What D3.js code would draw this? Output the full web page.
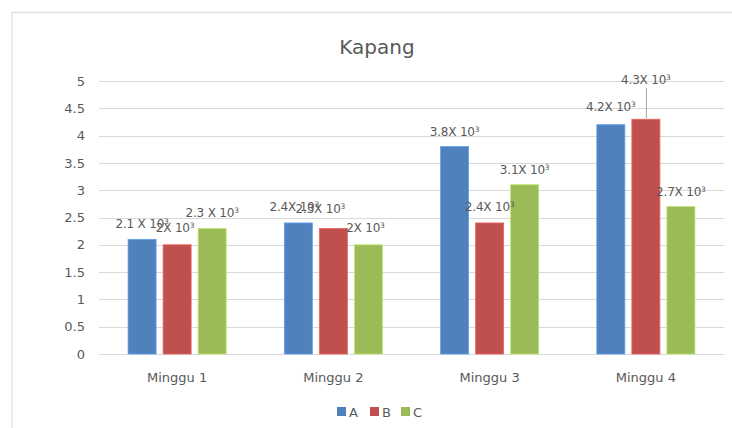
<!DOCTYPE html>
<html>
<head>
<meta charset="utf-8">
<script src="https://cdn.jsdelivr.net/npm/d3@7"></script>
<style>
  html, body { margin: 0; padding: 0; background: #ffffff; }
  svg { display: block; }
  text { font-family: "DejaVu Sans", Verdana, sans-serif; fill: #595959; }
</style>
</head>
<body>
<svg id="chart" width="732" height="428"></svg>
<script>
// Weekly mould counts (x 10^3) per treatment
const categories = ["Minggu 1", "Minggu 2", "Minggu 3", "Minggu 4"];
const seriesNames = ["A", "B", "C"];
const valuesA = [2.1, 2.4, 3.8, 4.2];
const valuesB = [2.0, 2.3, 2.4, 4.3];
const valuesC = [2.3, 2.0, 3.1, 2.7];
const yTicks = [0, 0.5, 1, 1.5, 2, 2.5, 3, 3.5, 4, 4.5, 5];
const colors = ["#4F81BD", "#C0504D", "#9BBB59"];

const seriesValues = [valuesA, valuesB, valuesC];

const svg = d3.select("#chart");
const W = 732, H = 428;
const fontFamily = '"DejaVu Sans", Verdana, sans-serif';

// outer chart frame
svg.append("path")
  .attr("d", `M12,${H} L12,12.5 L${W},12.5`)
  .attr("fill", "none")
  .attr("stroke", "#e3e3e3")
  .attr("stroke-width", 1.5);

const plot = { left: 99, right: 724, top: 81, bottom: 354 };

const x = d3.scaleBand().domain(categories).range([plot.left, plot.right]);
const inner = d3.scaleBand().domain(seriesNames)
  .range([0, x.bandwidth()]).paddingInner(0.2).paddingOuter(0.83);
const y = d3.scaleLinear().domain([0, 5]).range([plot.bottom, plot.top]);

// gridlines
svg.append("g")
  .selectAll("line")
  .data(yTicks)
  .join("line")
  .attr("x1", plot.left).attr("x2", plot.right)
  .attr("y1", d => Math.round(y(d)) + 0.5).attr("y2", d => Math.round(y(d)) + 0.5)
  .attr("stroke", "#d9d9d9").attr("stroke-width", 1);

// y axis labels
const yAxis = d3.axisLeft(y).tickValues(yTicks).tickSize(0).tickPadding(0)
  .tickFormat(d3.format("~g"));
const gy = svg.append("g").attr("transform", "translate(85,0)").call(yAxis);
gy.select(".domain").remove();
gy.selectAll("text").style("font-size", "13px").attr("fill", "#595959")
  .style("font-family", fontFamily);

// x axis labels
const xAxis = d3.axisBottom(x).tickSize(0).tickPadding(0);
const gx = svg.append("g").attr("transform", "translate(0,382)").call(xAxis);
gx.select(".domain").remove();
gx.selectAll("text").attr("y", 0).attr("dy", null)
  .style("font-size", "13px").attr("fill", "#595959")
  .style("font-family", fontFamily);

// bars
const bars = [];
seriesValues.forEach((vals, si) => {
  vals.forEach((v, ci) => {
    bars.push({ series: seriesNames[si], si, cat: categories[ci], ci, value: v });
  });
});

svg.append("g")
  .selectAll("rect")
  .data(bars)
  .join("rect")
  .attr("x", d => x(d.cat) + inner(d.series))
  .attr("width", inner.bandwidth())
  .attr("y", d => y(d.value))
  .attr("height", d => y(0) - y(d.value))
  .attr("fill", d => colors[d.si])
  .attr("stroke", d => d3.color(colors[d.si]).brighter(0.6))
  .attr("stroke-width", 0.8);

// data labels, "n X 10^3"; a few were moved by hand to reduce overlap
const labelSpaced = { "A-0": true, "C-0": true };
const labelNudge = {
  "A-1": [-4, -1], "B-0": [-2, -2], "B-1": [-13, -4], "C-1": [-3, -2],
  "B-2": [0, -1], "A-3": [0, -3], "B-3": [0, -24]
};
const fmt = d3.format("~g");

const lg = svg.append("g");
bars.forEach(d => {
  const key = d.series + "-" + d.ci;
  const nudge = labelNudge[key] || [0, 0];
  const cx = x(d.cat) + inner(d.series) + inner.bandwidth() / 2;
  const by = y(d.value) - 11 + nudge[1];
  const t = lg.append("text")
    .attr("x", cx + nudge[0]).attr("y", by)
    .attr("text-anchor", "middle")
    .style("font-size", "12px")
    .style("letter-spacing", "-0.2px");
  t.append("tspan").text(fmt(d.value) + (labelSpaced[key] ? " X 10" : "X 10"));
  t.append("tspan").text("3").attr("dy", -4).style("font-size", "7.5px");
  if (key === "B-3") {
    lg.append("line")
      .attr("x1", cx + 0.5).attr("x2", cx + 0.5)
      .attr("y1", by + 4).attr("y2", y(d.value) - 1)
      .attr("stroke", "#a6a6a6").attr("stroke-width", 1);
  }
});

// title
svg.append("text")
  .attr("x", 377).attr("y", 54)
  .attr("text-anchor", "middle")
  .style("font-size", "20px")
  .text("Kapang");

// legend
const legend = svg.append("g").attr("transform", "translate(337,407)");
const legendStep = [0, 33, 64];
seriesNames.forEach((s, i) => {
  const g = legend.append("g").attr("transform", `translate(${legendStep[i]},0)`);
  g.append("rect").attr("width", 9).attr("height", 9).attr("fill", colors[i]);
  g.append("text").attr("x", 12).attr("y", 9.5).style("font-size", "13px").text(s);
});
</script>
</body>
</html>
